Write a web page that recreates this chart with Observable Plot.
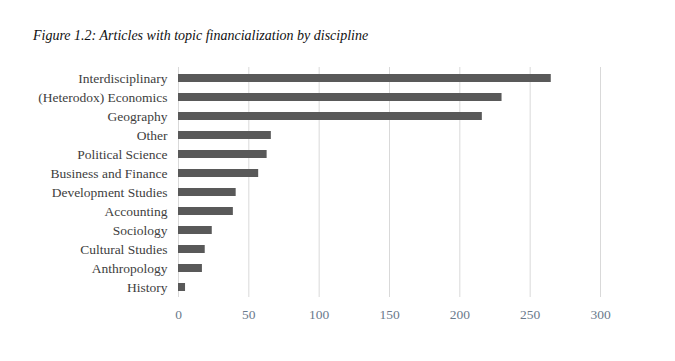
<!DOCTYPE html>
<html>
<head>
<meta charset="utf-8">
<script src="https://cdn.jsdelivr.net/npm/d3@7"></script>
<script src="https://cdn.jsdelivr.net/npm/@observablehq/plot@0.6"></script>
<style>
  body { margin: 0; background: #fff; }
  #wrap { position: relative; width: 675px; height: 361px; }
  #title { position: absolute; left: 33px; top: 28px; font-family: "Liberation Serif", "DejaVu Serif", "Times New Roman", serif; font-style: italic; font-size: 14px; color: #111; white-space: nowrap; }
  svg { position: absolute; left: 0; top: 0; }
  svg text { font-family: "Liberation Serif", "DejaVu Serif", "Times New Roman", serif !important; }
</style>
</head>
<body>
<div id="wrap"><div id="title">Figure 1.2: Articles with topic financialization by discipline</div></div>
<script>
const disciplines = ["Interdisciplinary", "(Heterodox) Economics", "Geography", "Other", "Political Science", "Business and Finance", "Development Studies", "Accounting", "Sociology", "Cultural Studies", "Anthropology", "History"];
const articles = [265, 230, 216, 66, 63, 57, 41, 39, 24, 19, 17, 5];
const xTicks = [0, 50, 100, 150, 200, 250, 300];

const data = disciplines.map((d, i) => ({discipline: d, count: articles[i]}));

const chart = Plot.plot({
  width: 675,
  height: 361,
  marginLeft: 178,
  marginRight: 75,
  marginTop: 67,
  marginBottom: 64,
  style: {fontFamily: "'Liberation Serif', 'DejaVu Serif', serif", fontSize: "13.5px", background: "transparent"},
  x: {domain: [0, 300], ticks: xTicks, label: null},
  y: {domain: disciplines, paddingInner: 0.6, paddingOuter: 0.27, label: null},
  marks: [
    Plot.ruleX(xTicks, {stroke: "#d9d9d9", strokeWidth: 1}),
    Plot.barX(data, {x: "count", y: "discipline", fill: "#595959"}),
    Plot.axisX({ticks: xTicks, tickSize: 0, tickPadding: 12, color: "#6a7a8c", fontSize: 13.5, label: null}),
    Plot.axisY({tickSize: 0, tickPadding: 11, color: "#404040", fontSize: 13.5, label: null})
  ]
});
document.getElementById("wrap").appendChild(chart);
</script>
</body>
</html>
